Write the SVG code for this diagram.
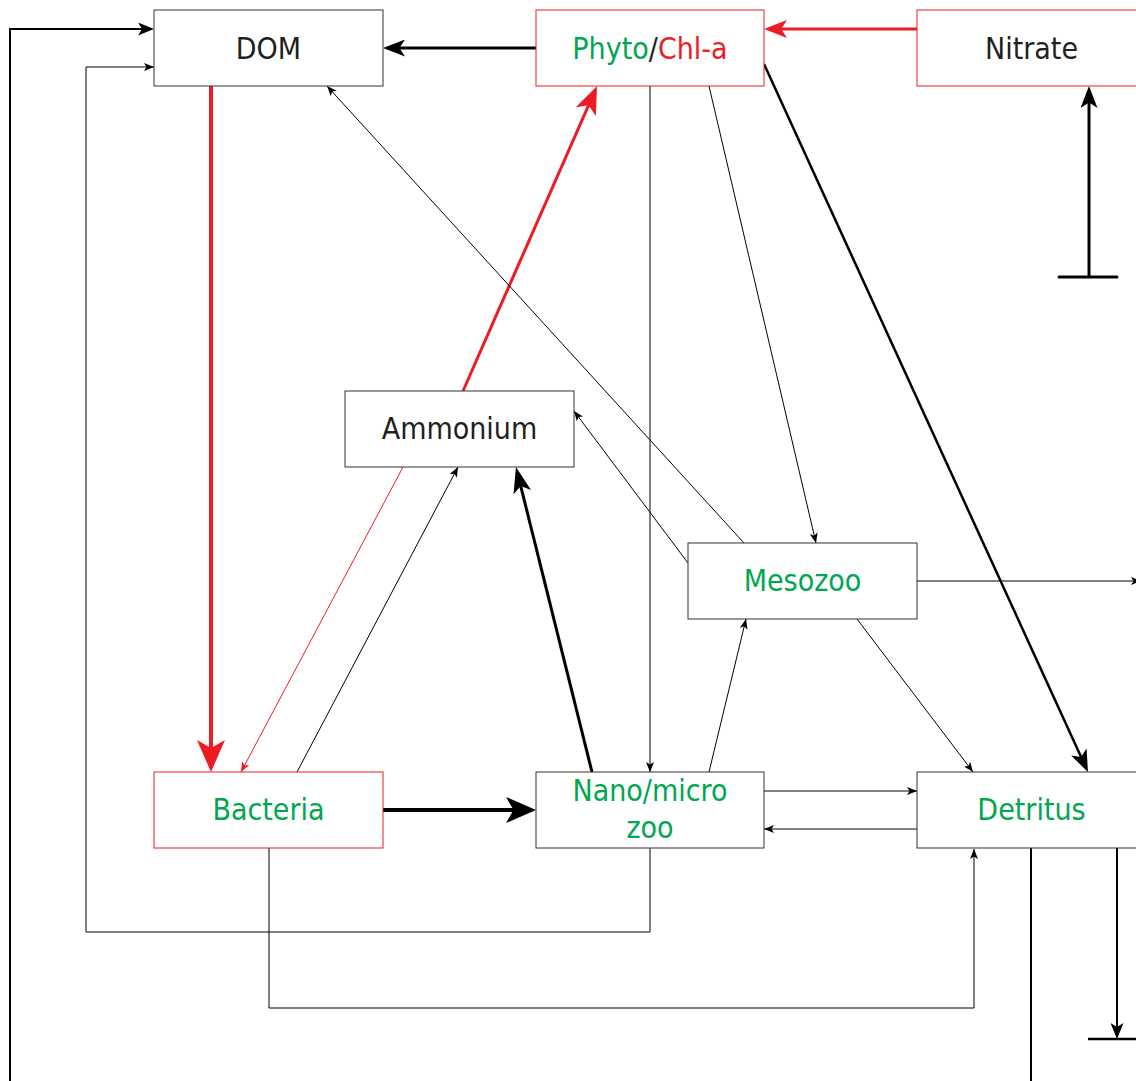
<svg xmlns="http://www.w3.org/2000/svg" width="1136" height="1081" viewBox="0 0 1136 1081">
<style>
.box{fill:#fff;stroke:#333;stroke-width:1}
.rbox{fill:#fff;stroke:#ED1C24;stroke-width:1}
.t{font-family:'DejaVu Sans Condensed','DejaVu Sans',sans-serif;font-stretch:condensed;font-size:30px;text-anchor:middle;fill:#231F20}
.g{fill:#00A650}
.r{fill:#ED1C24}
.k{fill:#231F20}
.c{fill:none;stroke:#000;stroke-linejoin:miter}
.cr{fill:none;stroke:#ED1C24}
.w1{stroke-width:1}
</style>
<defs>
<marker id="s" markerUnits="userSpaceOnUse" viewBox="0 0 10 8" markerWidth="10" markerHeight="8" refX="10" refY="4" orient="auto"><path d="M0,0 L10,4 L0,8 L2.5,4 Z" fill="#000"/></marker>
<marker id="rs" markerUnits="userSpaceOnUse" viewBox="0 0 10 8" markerWidth="10" markerHeight="8" refX="10" refY="4" orient="auto"><path d="M0,0 L10,4 L0,8 L2.5,4 Z" fill="#ED1C24"/></marker>
<marker id="m" markerUnits="userSpaceOnUse" viewBox="0 0 16 13" markerWidth="16" markerHeight="13" refX="8" refY="6.5" orient="auto"><path d="M0,0 L16,6.5 L0,13 L4,6.5 Z" fill="#000"/></marker>
<marker id="m2" markerUnits="userSpaceOnUse" viewBox="0 0 22 17" markerWidth="22" markerHeight="17" refX="11" refY="8.5" orient="auto"><path d="M0,0 L22,8.5 L0,17 L5.5,8.5 Z" fill="#000"/></marker>
<marker id="l" markerUnits="userSpaceOnUse" viewBox="0 0 30 26" markerWidth="30" markerHeight="26" refX="15" refY="13" orient="auto"><path d="M0,0 L30,13 L0,26 L7.5,13 Z" fill="#000"/></marker>
<marker id="l2" markerUnits="userSpaceOnUse" viewBox="0 0 26 18" markerWidth="26" markerHeight="18" refX="13" refY="9" orient="auto"><path d="M0,0 L26,9 L0,18 L6.5,9 Z" fill="#000"/></marker>
<marker id="rm" markerUnits="userSpaceOnUse" viewBox="0 0 23 18" markerWidth="23" markerHeight="18" refX="11.5" refY="9" orient="auto"><path d="M0,0 L23,9 L0,18 L5.75,9 Z" fill="#ED1C24"/></marker>
<marker id="rl" markerUnits="userSpaceOnUse" viewBox="0 0 32 28" markerWidth="32" markerHeight="28" refX="16" refY="14" orient="auto"><path d="M0,0 L32,14 L0,28 L8,14 Z" fill="#ED1C24"/></marker>
<marker id="rl2" markerUnits="userSpaceOnUse" viewBox="0 0 28 22" markerWidth="28" markerHeight="22" refX="14" refY="11" orient="auto"><path d="M0,0 L28,11 L0,22 L7,11 Z" fill="#ED1C24"/></marker>
</defs>

<g id="connectors">
<polyline class="c" stroke-width="2" points="1031,848 1031,1100 10,1100 10,29 146,29" marker-end="url(#m)"/>
<polyline class="c w1" points="650,848 650,932 86,932 86,67 154,67" marker-end="url(#s)"/>
<polyline class="c w1" points="269,848 269,1008 974,1008 974,849" marker-end="url(#s)"/>
<line class="c" stroke-width="3" x1="536" y1="48" x2="394" y2="48" marker-end="url(#m2)"/>
<line class="cr" stroke-width="3" x1="917" y1="29" x2="775.5" y2="29" marker-end="url(#rm)"/>
<line class="c" stroke-width="3" x1="1089" y1="277" x2="1089" y2="97" marker-end="url(#m2)"/>
<line class="c" stroke-width="3" stroke-linecap="round" x1="1059" y1="277" x2="1117" y2="277"/>
<line class="cr" stroke-width="4" x1="211" y1="86" x2="211" y2="756" marker-end="url(#rl)"/>
<line class="cr" stroke-width="3" x1="463" y1="391" x2="591.4" y2="98.8" marker-end="url(#rl2)"/>
<line class="cr w1" x1="403" y1="467" x2="241" y2="772" marker-end="url(#rs)"/>
<line class="c w1" x1="297" y1="772" x2="458" y2="467" marker-end="url(#s)"/>
<line class="c" stroke-width="3" x1="592" y1="772" x2="519.1" y2="479.6" marker-end="url(#l2)"/>
<line class="c w1" x1="688" y1="563" x2="574" y2="411" marker-end="url(#s)"/>
<line class="c w1" x1="744" y1="543" x2="327" y2="86" marker-end="url(#s)"/>
<line class="c w1" x1="709" y1="86" x2="816" y2="543" marker-end="url(#s)"/>
<line class="c w1" x1="650" y1="86" x2="650" y2="772" marker-end="url(#s)"/>
<line class="c" stroke-width="2.5" x1="764" y1="64" x2="1083.4" y2="762" marker-end="url(#m2)"/>
<line class="c w1" x1="709" y1="772" x2="746" y2="619" marker-end="url(#s)"/>
<line class="c w1" x1="917" y1="581" x2="1141" y2="581" marker-end="url(#s)"/>
<line class="c w1" x1="857" y1="619" x2="973" y2="772" marker-end="url(#s)"/>
<line class="c" stroke-width="4" x1="383" y1="810" x2="521" y2="810" marker-end="url(#l)"/>
<line class="c w1" x1="764" y1="791" x2="917" y2="791" marker-end="url(#s)"/>
<line class="c w1" x1="917" y1="829" x2="764" y2="829" marker-end="url(#s)"/>
<line class="c" stroke-width="2" x1="1117" y1="848" x2="1117" y2="1031" marker-end="url(#m)"/>
<line class="c" stroke-width="2.5" x1="1088" y1="1039" x2="1146" y2="1039"/>
</g>

<g id="node-dom"><rect class="box" x="154" y="10" width="229" height="76"/><text class="t" x="268.5" y="58.5">DOM</text></g>
<g id="node-phyto"><rect class="rbox" x="536" y="10" width="228" height="76"/><text class="t" x="650" y="58.5"><tspan class="g">Phyto</tspan><tspan class="k">/</tspan><tspan class="r">Chl-a</tspan></text></g>
<g id="node-nitrate"><rect class="rbox" x="917" y="10" width="229" height="76"/><text class="t" x="1031.5" y="58.5">Nitrate</text></g>
<g id="node-ammonium"><rect class="box" x="345" y="391" width="229" height="76"/><text class="t" x="459.5" y="439">Ammonium</text></g>
<g id="node-mesozoo"><rect class="box" x="688" y="543" width="229" height="76"/><text class="t g" x="802.5" y="591">Mesozoo</text></g>
<g id="node-bacteria"><rect class="rbox" x="154" y="772" width="229" height="76"/><text class="t g" x="268.5" y="820">Bacteria</text></g>
<g id="node-nano"><rect class="box" x="536" y="772" width="228" height="76"/><text class="t g" x="650" y="801">Nano/micro</text><text class="t g" x="650" y="838">zoo</text></g>
<g id="node-detritus"><rect class="box" x="917" y="772" width="229" height="76"/><text class="t g" x="1031.5" y="820">Detritus</text></g>
</svg>
